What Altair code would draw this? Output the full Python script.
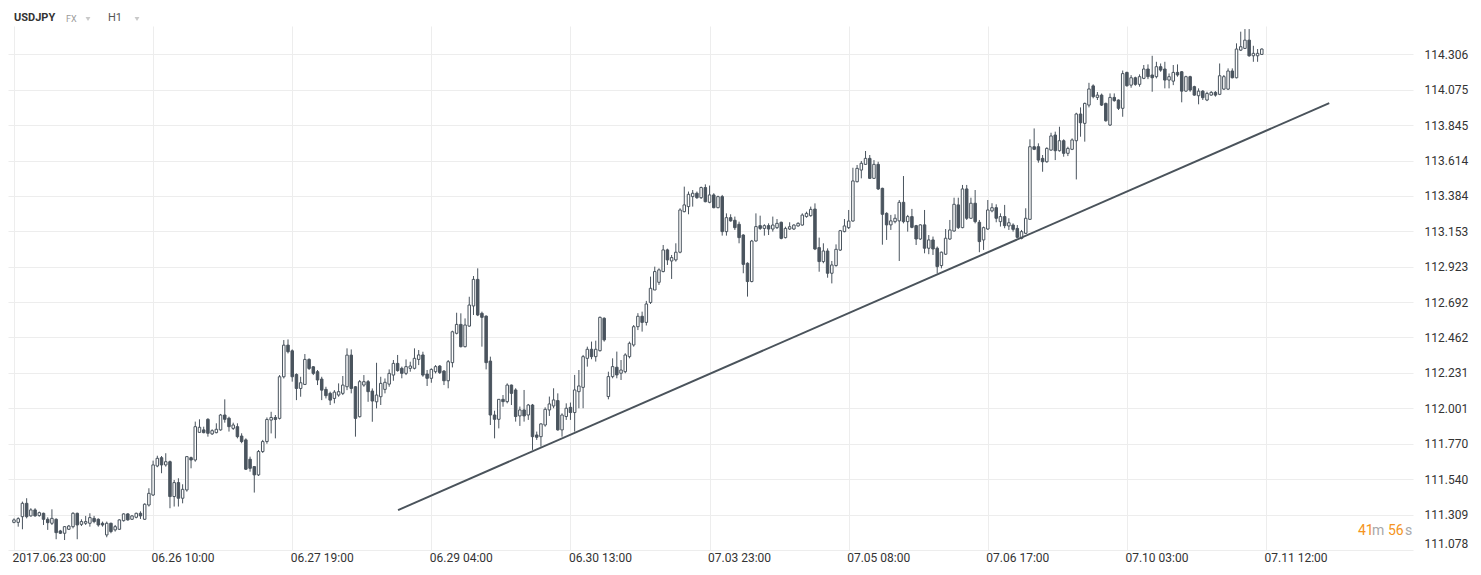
import altair as alt
import pandas as pd

# ---------------- data (USDJPY H1 candles) ----------------
opens = [
 111.258,111.258,111.295,111.382,111.300,111.339,111.302,111.317,111.278,111.252,
 111.278,111.202,111.187,111.213,111.230,111.317,111.245,111.252,111.252,111.284,
 111.278,111.252,111.176,111.252,111.209,111.213,111.269,111.313,111.278,111.291,
 111.317,111.278,111.371,111.436,111.625,111.679,111.632,111.653,111.426,111.517,
 111.415,111.469,111.679,111.664,111.844,111.860,111.929,111.834,111.842,111.860,
 111.957,111.936,111.870,111.881,111.820,111.795,111.669,111.621,111.567,111.719,
 111.784,111.924,111.941,111.935,112.206,112.412,112.375,112.221,112.130,112.156,
 112.319,112.271,112.239,112.191,112.124,112.098,112.065,112.087,112.098,112.141,
 112.347,112.141,111.946,112.152,112.174,112.113,112.043,112.076,112.124,112.158,
 112.217,112.293,112.261,112.228,112.261,112.261,112.319,112.348,112.224,112.196,
 112.239,112.276,112.243,112.180,112.298,112.489,112.547,112.402,112.536,112.667,
 112.840,112.619,112.601,112.308,111.957,111.929,112.059,112.044,112.152,112.120,
 111.951,111.990,111.957,112.022,111.827,111.816,111.892,111.990,112.016,112.051,
 111.860,111.947,112.007,111.973,112.109,112.137,112.326,112.385,112.337,112.376,
 112.587,112.077,112.207,112.268,112.229,112.239,112.337,112.413,112.532,112.600,
 112.560,112.690,112.771,112.821,112.891,113.032,112.960,112.967,113.017,113.281,
 113.314,113.379,113.401,113.372,113.438,113.342,113.390,113.307,113.379,113.151,
 113.242,113.225,113.199,113.129,112.945,112.826,113.090,113.190,113.172,113.190,
 113.168,113.177,113.212,113.112,113.168,113.168,113.188,113.194,113.249,113.255,
 113.298,113.047,112.956,113.025,112.880,112.930,113.031,113.151,113.177,113.220,
 113.476,113.552,113.589,113.628,113.498,113.589,113.433,113.270,113.195,113.216,
 113.221,113.342,113.216,113.249,113.190,113.103,113.195,113.043,113.097,113.043,
 112.930,113.004,113.103,113.155,113.325,113.177,113.429,113.238,113.336,113.212,
 113.097,113.168,113.286,113.307,113.216,113.249,113.188,113.194,113.172,113.107,
 113.140,113.231,113.704,113.704,113.628,113.606,113.682,113.780,113.678,113.743,
 113.661,113.687,113.743,113.917,113.856,113.975,114.100,114.025,114.040,113.986,
 113.845,114.025,114.008,113.954,114.188,114.105,114.153,114.110,114.149,114.210,
 114.171,114.160,114.225,114.210,114.138,114.131,114.188,114.192,114.066,114.160,
 114.095,114.036,114.066,114.008,114.040,114.058,114.045,114.079,114.079,114.197,
 114.153,114.333,114.344,114.398,114.296,114.296,114.305]

highs = [
 111.284,111.291,111.393,111.415,111.350,111.350,111.328,111.321,111.291,111.343,
 111.284,111.209,111.234,111.241,111.324,111.321,111.278,111.300,111.317,111.300,
 111.284,111.263,111.263,111.256,111.241,111.278,111.317,111.317,111.306,111.321,
 111.330,111.382,111.480,111.660,111.692,111.690,111.708,111.660,111.534,111.545,
 111.506,111.690,111.686,111.914,111.929,111.881,111.936,111.864,111.903,111.964,
 112.059,111.946,111.907,111.903,111.838,111.805,111.686,111.625,111.729,111.795,
 111.941,111.978,111.957,112.217,112.445,112.449,112.384,112.228,112.206,112.354,
 112.326,112.276,112.250,112.206,112.141,112.109,112.119,112.163,112.211,112.391,
 112.384,112.145,112.185,112.217,112.185,112.130,112.297,112.206,112.195,112.254,
 112.315,112.348,112.272,112.319,112.304,112.391,112.380,112.369,112.250,112.261,
 112.282,112.282,112.250,112.315,112.506,112.623,112.619,112.586,112.727,112.862,
 112.912,112.630,112.605,112.337,111.985,112.059,112.087,112.163,112.155,112.131,
 112.012,112.120,112.029,112.029,111.849,111.903,112.007,112.077,112.131,112.098,
 111.968,112.033,112.038,112.218,112.250,112.348,112.402,112.435,112.441,112.598,
 112.593,112.239,112.326,112.370,112.315,112.359,112.435,112.543,112.620,112.630,
 112.700,112.858,112.923,112.912,113.064,113.040,112.999,113.075,113.303,113.444,
 113.412,113.422,113.412,113.444,113.459,113.451,113.401,113.385,113.390,113.270,
 113.264,113.249,113.216,113.134,112.951,113.097,113.270,113.255,113.199,113.205,
 113.249,113.233,113.216,113.183,113.212,113.199,113.212,113.270,113.281,113.314,
 113.335,113.112,113.075,113.042,112.960,113.068,113.162,113.233,113.292,113.567,
 113.585,113.611,113.676,113.650,113.617,113.606,113.437,113.277,113.260,113.264,
 113.357,113.513,113.260,113.299,113.195,113.199,113.292,113.129,113.119,113.054,
 113.021,113.168,113.227,113.372,113.372,113.455,113.455,113.372,113.422,113.227,
 113.184,113.357,113.336,113.329,113.270,113.325,113.238,113.205,113.194,113.162,
 113.303,113.752,113.823,113.726,113.650,113.700,113.795,113.802,113.834,113.752,
 113.704,113.758,113.925,113.960,113.991,114.120,114.110,114.060,114.050,113.991,
 114.051,114.051,114.012,114.200,114.192,114.170,114.160,114.175,114.236,114.240,
 114.296,114.257,114.246,114.257,114.181,114.236,114.240,114.197,114.166,114.166,
 114.101,114.084,114.073,114.062,114.066,114.066,114.246,114.171,114.214,114.214,
 114.377,114.453,114.470,114.470,114.361,114.340,114.344]

lows = [
 111.252,111.230,111.213,111.284,111.295,111.295,111.295,111.241,111.209,111.241,
 111.148,111.182,111.143,111.209,111.219,111.148,111.234,111.241,111.230,111.252,
 111.230,111.230,111.161,111.187,111.198,111.209,111.263,111.269,111.274,111.284,
 111.280,111.274,111.361,111.430,111.617,111.578,111.621,111.350,111.361,111.361,
 111.382,111.458,111.610,111.653,111.842,111.838,111.816,111.827,111.838,111.855,
 111.907,111.849,111.860,111.805,111.773,111.599,111.588,111.452,111.560,111.710,
 111.770,111.837,111.805,111.928,112.195,112.358,112.174,112.054,112.076,112.152,
 112.250,112.217,112.152,112.054,112.065,112.022,112.033,112.076,112.087,112.119,
 112.098,111.816,111.941,112.141,112.043,111.913,112.000,112.022,112.098,112.141,
 112.180,112.239,112.196,112.217,112.239,112.254,112.282,112.206,112.146,112.167,
 112.228,112.224,112.152,112.131,112.267,112.482,112.397,112.397,112.532,112.608,
 112.601,112.402,112.254,111.892,111.805,111.870,112.011,112.033,112.022,111.914,
 111.886,111.914,111.925,111.730,111.795,111.751,111.881,111.951,112.001,111.855,
 111.816,111.925,111.925,111.849,112.001,112.001,112.272,112.320,112.305,112.370,
 112.435,112.059,112.196,112.196,112.185,112.229,112.326,112.402,112.510,112.500,
 112.540,112.680,112.771,112.804,112.886,112.934,112.843,112.956,113.010,113.277,
 113.264,113.314,113.364,113.364,113.342,113.336,113.303,113.303,113.125,113.125,
 113.216,113.162,113.075,112.880,112.728,112.821,113.086,113.162,113.125,113.129,
 113.151,113.168,113.101,113.107,113.162,113.162,113.184,113.190,113.242,113.248,
 113.031,112.890,112.945,112.851,112.814,112.923,113.025,113.147,113.168,113.216,
 113.472,113.498,113.585,113.494,113.494,113.422,113.066,113.097,113.162,113.205,
 112.960,113.205,113.151,113.173,113.064,113.097,113.010,113.004,112.999,112.880,
 112.912,112.999,113.097,113.151,113.168,113.173,113.227,113.234,113.205,113.017,
 113.032,113.162,113.277,113.212,113.184,113.173,113.162,113.151,113.107,113.101,
 113.136,113.227,113.682,113.600,113.541,113.600,113.678,113.617,113.672,113.639,
 113.643,113.682,113.491,113.769,113.737,113.960,114.019,114.008,113.969,113.867,
 113.839,113.997,113.943,113.899,114.095,114.088,114.101,114.095,114.144,114.144,
 114.062,114.149,114.192,114.084,114.084,114.105,114.160,113.993,114.062,114.062,
 114.036,113.980,114.008,114.001,114.036,114.030,114.040,114.073,114.073,114.149,
 114.149,114.327,114.340,114.290,114.257,114.257,114.301]

closes = [
 111.274,111.282,111.382,111.295,111.339,111.300,111.321,111.278,111.256,111.284,
 111.191,111.187,111.230,111.234,111.317,111.241,111.263,111.263,111.289,111.263,
 111.241,111.241,111.252,111.198,111.230,111.274,111.313,111.274,111.300,111.317,
 111.300,111.376,111.447,111.632,111.675,111.632,111.653,111.426,111.517,111.415,
 111.473,111.686,111.664,111.881,111.877,111.842,111.838,111.855,111.864,111.957,
 111.929,111.881,111.892,111.816,111.784,111.604,111.610,111.567,111.719,111.784,
 111.928,111.941,111.928,112.206,112.412,112.369,112.206,112.130,112.167,112.319,
 112.260,112.228,112.185,112.119,112.083,112.054,112.106,112.109,112.152,112.347,
 112.130,111.935,112.174,112.174,112.109,112.048,112.087,112.163,112.170,112.228,
 112.293,112.246,112.228,112.272,112.276,112.326,112.348,112.217,112.196,112.254,
 112.272,112.233,112.180,112.304,112.499,112.547,112.402,112.543,112.673,112.840,
 112.608,112.593,112.298,111.957,111.929,112.059,112.044,112.152,112.098,111.947,
 111.990,111.951,112.022,111.816,111.812,111.899,111.994,112.029,112.055,111.860,
 111.957,112.001,111.973,112.120,112.146,112.337,112.385,112.337,112.385,112.593,
 112.446,112.207,112.272,112.218,112.250,112.348,112.424,112.532,112.600,112.560,
 112.680,112.782,112.891,112.902,113.032,112.967,112.982,113.017,113.292,113.325,
 113.394,113.401,113.372,113.438,113.346,113.390,113.307,113.379,113.151,113.242,
 113.221,113.177,113.112,112.938,112.826,113.090,113.184,113.172,113.190,113.168,
 113.194,113.205,113.107,113.172,113.183,113.194,113.205,113.259,113.270,113.296,
 113.038,112.956,113.025,112.880,112.934,113.036,113.157,113.188,113.220,113.481,
 113.563,113.596,113.628,113.498,113.589,113.429,113.264,113.195,113.221,113.238,
 113.342,113.216,113.249,113.179,113.103,113.195,113.043,113.097,113.038,112.923,
 113.017,113.108,113.162,113.329,113.177,113.429,113.238,113.336,113.216,113.086,
 113.177,113.292,113.307,113.238,113.249,113.190,113.209,113.166,113.114,113.151,
 113.238,113.704,113.687,113.617,113.606,113.693,113.774,113.678,113.743,113.661,
 113.693,113.748,113.917,113.860,113.986,114.080,114.030,114.040,113.975,113.873,
 114.025,114.004,113.954,114.180,114.101,114.153,114.110,114.160,114.210,114.160,
 114.153,114.225,114.203,114.138,114.160,114.188,114.171,114.066,114.160,114.073,
 114.040,114.066,114.023,114.051,114.058,114.040,114.166,114.160,114.197,114.153,
 114.340,114.355,114.398,114.296,114.312,114.312,114.340]

x_tick_bars = [0, 33, 66, 99, 132, 165, 198, 231, 264, 297]
x_tick_labels = ["2017.06.23  00:00", "06.26  10:00", "06.27  19:00", "06.29  04:00",
                 "06.30  13:00", "07.03  23:00", "07.05  08:00", "07.06  17:00",
                 "07.10  03:00", "07.11  12:00"]
y_ticks = [111.078, 111.309, 111.540, 111.770, 112.001, 112.231, 112.462, 112.692,
           112.923, 113.153, 113.384, 113.614, 113.845, 114.075, 114.306]

trend_bar = [91.1, 312.0]
trend_price = [111.338, 113.988]

symbol = "USDJPY"
market = "FX"
timeframe = "H1"
countdown = ["41", "m", "56", "s"]

# ---------------- build ----------------
n = len(closes)
assert len(opens) == len(highs) == len(lows) == n

df = pd.DataFrame({"i": list(range(n)), "o": opens, "h": highs, "l": lows, "c": closes})
trend_df = pd.DataFrame({"i": trend_bar, "p": trend_price})

DARK = "#4a545e"
W, H = 1405, 524

xscale = alt.Scale(domain=[-0.236, 330.68], nice=False, zero=False)
yscale = alt.Scale(domain=[111.078, 114.490], nice=False, zero=False)

label_arr = "[" + ",".join("'" + s + "'" for s in x_tick_labels) + "]"
x_axis = alt.Axis(values=x_tick_bars, labelExpr=label_arr + "[round(datum.value/33)]",
                  title=None, ticks=False, domain=False, grid=True, gridColor="#ededed",
                  labelAlign="left", labelBaseline="top", labelPadding=2, labelOffset=-2,
                  labelFlush=False, labelOverlap=False, labelFontSize=12,
                  labelColor="#333333", labelFont="Roboto")
y_axis = alt.Axis(values=y_ticks, format=".3f", orient="right", title=None, ticks=False,
                  domain=False, grid=True, gridColor="#ededed", labelPadding=11,
                  labelFlush=True, labelOverlap=False, labelFontSize=12,
                  labelColor="#333333", labelFont="Roboto", labelAlign="left")

X = alt.X("i:Q", scale=xscale, axis=x_axis)

wicks = alt.Chart(df).mark_rule(color=DARK, strokeWidth=1).encode(
    x=X,
    y=alt.Y("l:Q", scale=yscale, axis=y_axis),
    y2="h:Q",
)

bodies = alt.Chart(df).mark_bar(size=2.5, stroke=DARK, strokeWidth=1).encode(
    x=X,
    y=alt.Y("o:Q", scale=yscale, axis=y_axis),
    y2="c:Q",
    fill=alt.condition("datum.c >= datum.o", alt.value("#ffffff"), alt.value(DARK)),
)

trend = alt.Chart(trend_df).mark_line(color="#4a535b", strokeWidth=2).encode(
    x=X,
    y=alt.Y("p:Q", scale=yscale, axis=y_axis),
)

def label(text, x, y, size, color, weight="normal", align="left"):
    return alt.Chart(pd.DataFrame({"t": [text]})).mark_text(
        align=align, baseline="middle", fontSize=size, font="Roboto",
        fontWeight=weight, color=color
    ).encode(text="t:N", x=alt.value(x), y=alt.value(y))

def caret(x):
    return alt.Chart(pd.DataFrame({"k": [0]})).mark_point(
        shape="triangle-down", filled=True, color="#c9c9c9", size=24, opacity=1
    ).encode(x=alt.value(x), y=alt.value(-7))

hdr_sym = label(symbol, 6, -8, 11, "#333333", "bold")
hdr_mkt = label(market, 58, -7, 9, "#9a9a9a")
hdr_tf = label(timeframe, 100, -8, 11, "#555555")

cd1 = label(countdown[0], 1350, 505, 14, "#f59420")
cd2 = label(countdown[1], 1364, 505, 14, "#a8a8a8")
cd3 = label(countdown[2], 1380, 505, 14, "#f59420")
cd4 = label(countdown[3], 1397, 505, 14, "#a8a8a8")

chart = alt.layer(wicks, bodies, trend, hdr_sym, hdr_mkt, hdr_tf, caret(80), caret(129),
                  cd1, cd2, cd3, cd4).properties(
    width=W, height=H,
    padding={"left": 0, "top": 18, "right": 60, "bottom": 22},
    autosize=alt.AutoSizeParams(type="none"),
    background="#ffffff",
).configure_view(stroke=None)

chart.save("out.html", embed_options={"renderer": "svg", "actions": False})
